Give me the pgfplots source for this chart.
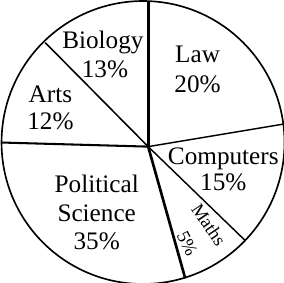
\documentclass[border=0pt]{standalone}
\usepackage{pgfplots}
\pgfplotsset{compat=1.18}
\usepackage{fontspec}
\setmainfont{Liberation Serif}
\begin{document}
\begin{tikzpicture}
\begin{axis}[
  x=1pt, y=1pt,
  xmin=-147, xmax=137, ymin=-136, ymax=146,
  hide axis,
]
% pie outline
\draw[line width=1.6pt, black] (axis cs:0,0) circle[radius=137.5pt];
% spokes (hub to rim), drawn slice boundaries
\addplot[black, line width=3pt] coordinates {(5,-4) (5,137)};      % Biology | Law
\addplot[black, line width=1.4pt] coordinates {(5,-4) (137,18)};   % Law | Computers
\addplot[black, line width=1.4pt] coordinates {(5,-4) (99,-95)};   % Computers | Maths
\addplot[black, line width=2.6pt] coordinates {(5,-4) (41,-132)};  % Maths | Political Science
\addplot[black, line width=2pt] coordinates {(5,-4) (-138,0)};     % Political Science | Arts
\addplot[black, line width=1.5pt] coordinates {(5,-4) (-95,97)};   % Arts | Biology
\begin{scope}[every node/.style={font=\fontsize{24.5}{29}\selectfont, anchor=base, inner sep=0pt}]
\node at (axis cs:-39,91) {Biology};
\node at (axis cs:-37,63) {13\%};
\node at (axis cs:53,78) {Law};
\node at (axis cs:53,49) {20\%};
\node at (axis cs:-90,39) {Arts};
\node at (axis cs:-90,13) {12\%};
\node at (axis cs:78,-21) {Computers};
\node at (axis cs:78,-47) {15\%};
\node at (axis cs:-45,-49) {Political};
\node at (axis cs:-45,-77) {Science};
\node at (axis cs:-45,-104) {35\%};
\end{scope}
\node[font=\fontsize{18}{21}\selectfont, inner sep=0pt, rotate=-56] at (axis cs:64,-80) {Maths};
\node[font=\fontsize{18}{21}\selectfont, inner sep=0pt, rotate=-63] at (axis cs:43,-98) {5\%};
\end{axis}
\end{tikzpicture}
\end{document}
